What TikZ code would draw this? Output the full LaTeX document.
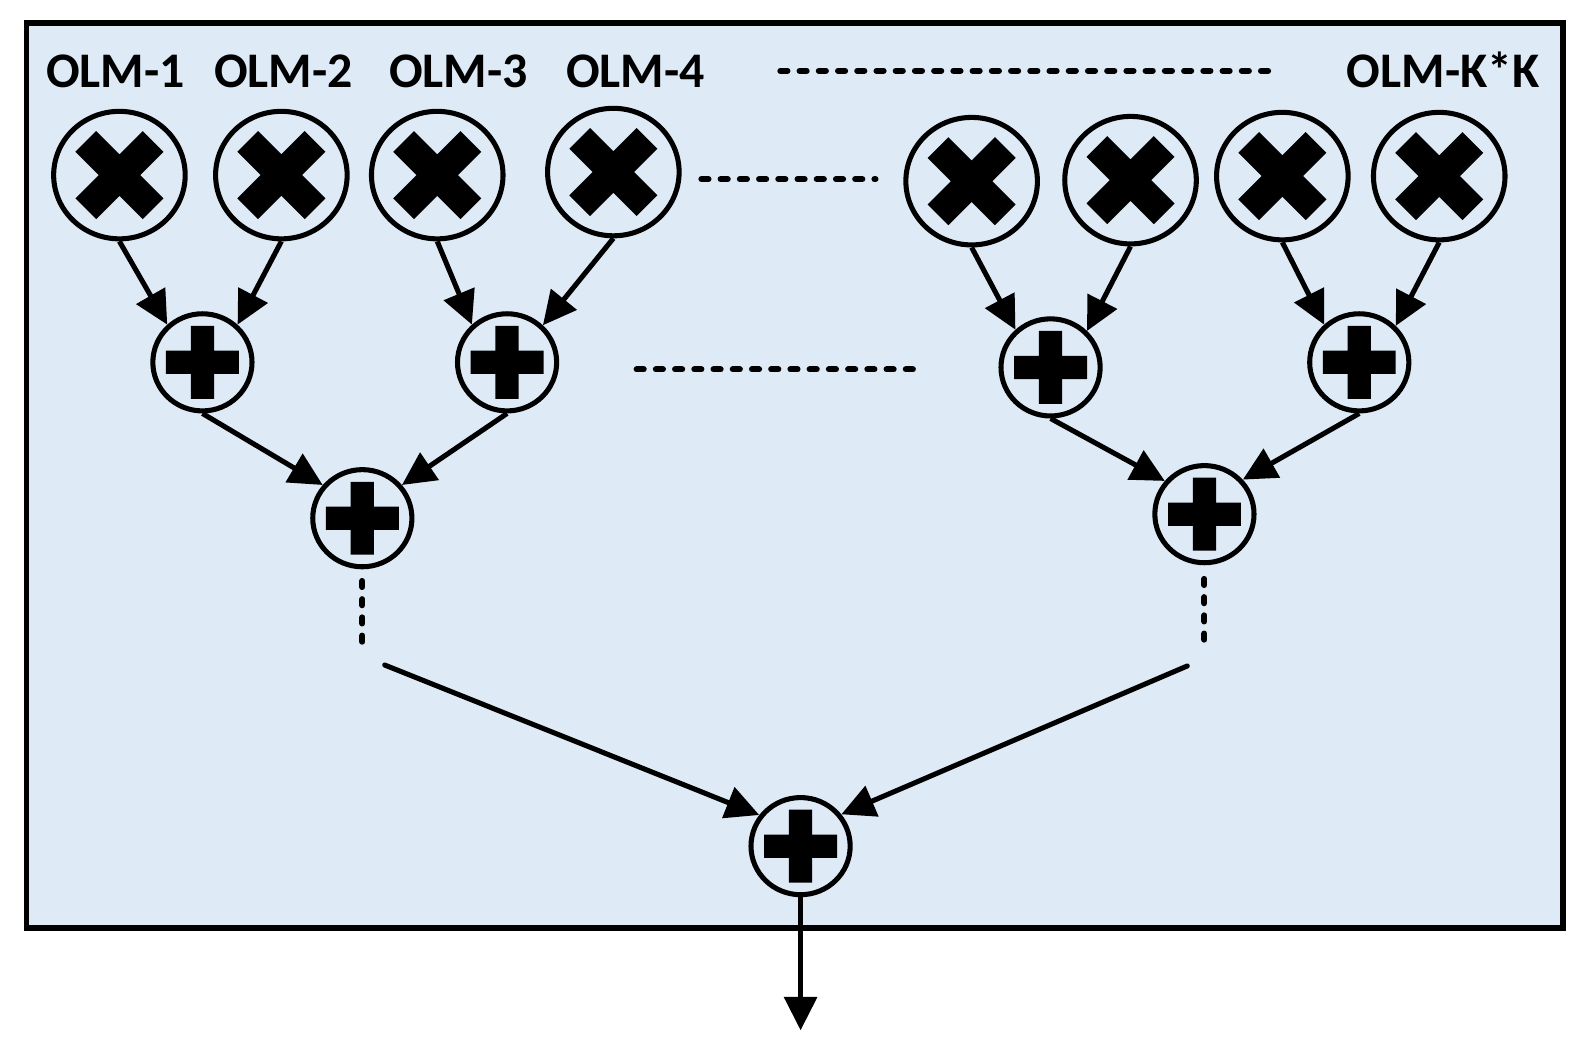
\documentclass[tikz,border=0pt]{standalone}
\usepackage{fontspec}
\setmainfont{Carlito}
\usetikzlibrary{shapes.geometric,arrows.meta}
\definecolor{bgblue}{HTML}{DEEBF7}
\begin{document}
\begin{tikzpicture}[x=0.02cm,y=-0.02cm,
  frame/.style={draw=black, fill=bgblue, line width=0.11cm},
  lbl/.style={font=\fontsize{28}{30}\selectfont\bfseries, anchor=base, inner sep=0},
  mulnode/.style={ellipse, draw, line width=0.1cm, inner sep=0,
    minimum width=2.6cm, minimum height=2.52cm,
    path picture={
      \draw[line width=0.58cm, line cap=butt, shift={(path picture bounding box.center)}]
        (-0.665cm,-0.665cm) -- (0.665cm,0.665cm)
        (-0.665cm,0.665cm) -- (0.665cm,-0.665cm);}},
  addnode/.style={ellipse, draw, line width=0.1cm, inner sep=0,
    minimum width=1.96cm, minimum height=1.92cm,
    path picture={
      \fill[shift={(path picture bounding box.center)}] (-0.72cm,-0.23cm) rectangle (0.72cm,0.23cm)
        (-0.23cm,-0.72cm) rectangle (0.23cm,0.72cm);}},
  arr/.style={line width=0.1cm, -{Triangle[length=0.66cm,width=0.64cm]}},
  hdots/.style={line width=0.12cm, line cap=round, dash pattern=on 0.14cm off 0.24cm},
  vdots/.style={line width=0.12cm, line cap=round, dash pattern=on 0.12cm off 0.24cm}
]
\useasboundingbox (0,0) rectangle (1568,1041);
\fill[white] (0,0) rectangle (1568,1041);
\draw[frame] (26,23) rectangle (1544,917);

% labels
\node[lbl] (L1) at (114,86) {OLM-1};
\node[lbl] (L2) at (280,86) {OLM-2};
\node[lbl] (L3) at (453,86) {OLM-3};
\node[lbl] (L4) at (628,86) {OLM-4};
\node[lbl] (LK) at (1426,86) {OLM-K*K};

% multipliers
\node[mulnode] (X1) at (118,173) {};
\node[mulnode] (X2) at (278,173) {};
\node[mulnode] (X3) at (432,173) {};
\node[mulnode] (X4) at (606,170) {};
\node[mulnode] (X5) at (960,179) {};
\node[mulnode] (X6) at (1117,178) {};
\node[mulnode] (X7) at (1267,174) {};
\node[mulnode] (X8) at (1422,174) {};

% adders
\node[addnode] (P1) at (200,358) {};
\node[addnode] (P2) at (501,358) {};
\node[addnode] (P3) at (1038,363) {};
\node[addnode] (P4) at (1343,358) {};
\node[addnode] (Q1) at (358,512) {};
\node[addnode] (Q2) at (1190,508) {};
\node[addnode] (R) at (791,836) {};

% dotted lines
\coordinate (t1) at (771,70);  \coordinate (t2) at (1255,70);
\coordinate (m1) at (693,177); \coordinate (m2) at (865,177);
\coordinate (b1) at (629,365); \coordinate (b2) at (911,365);
\draw[hdots] (t1) -- (t2);
\draw[hdots] (m1) -- (m2);
\draw[hdots] (b1) -- (b2);

% level 1 arrows
\draw[arr] (X1.south) -- (P1.133);
\draw[arr] (X2.south) -- (P1.47);
\draw[arr] (X3.south) -- (P2.133);
\draw[arr] (X4.south) -- (P2.46);
\draw[arr] (X5.south) -- (P3.133);
\draw[arr] (X6.south) -- (P3.45);
\draw[arr] (X7.south) -- (P4.133);
\draw[arr] (X8.south) -- (P4.45);

% level 2 arrows
\draw[arr] (P1.south) -- (Q1.140);
\draw[arr] (P2.south) -- (Q1.40);
\draw[arr] (P3.south) -- (Q2.140);
\draw[arr] (P4.south) -- (Q2.42);

% vertical dotted continuations
\coordinate (dl1) at (358,574); \coordinate (dl2) at (358,634);
\coordinate (dr1) at (1190,572); \coordinate (dr2) at (1190,632);
\draw[vdots] (dl1) -- (dl2);
\draw[vdots] (dr1) -- (dr2);

% final arrows
\coordinate (cl) at (380,657);
\coordinate (cr) at (1173,658);
\draw[arr, line cap=round] (cl) -- (R.143);
\draw[arr, line cap=round] (cr) -- (R.38);

% output
\coordinate (out) at (791,1018);
\draw[arr] (R.south) -- (out);
\end{tikzpicture}
\end{document}
